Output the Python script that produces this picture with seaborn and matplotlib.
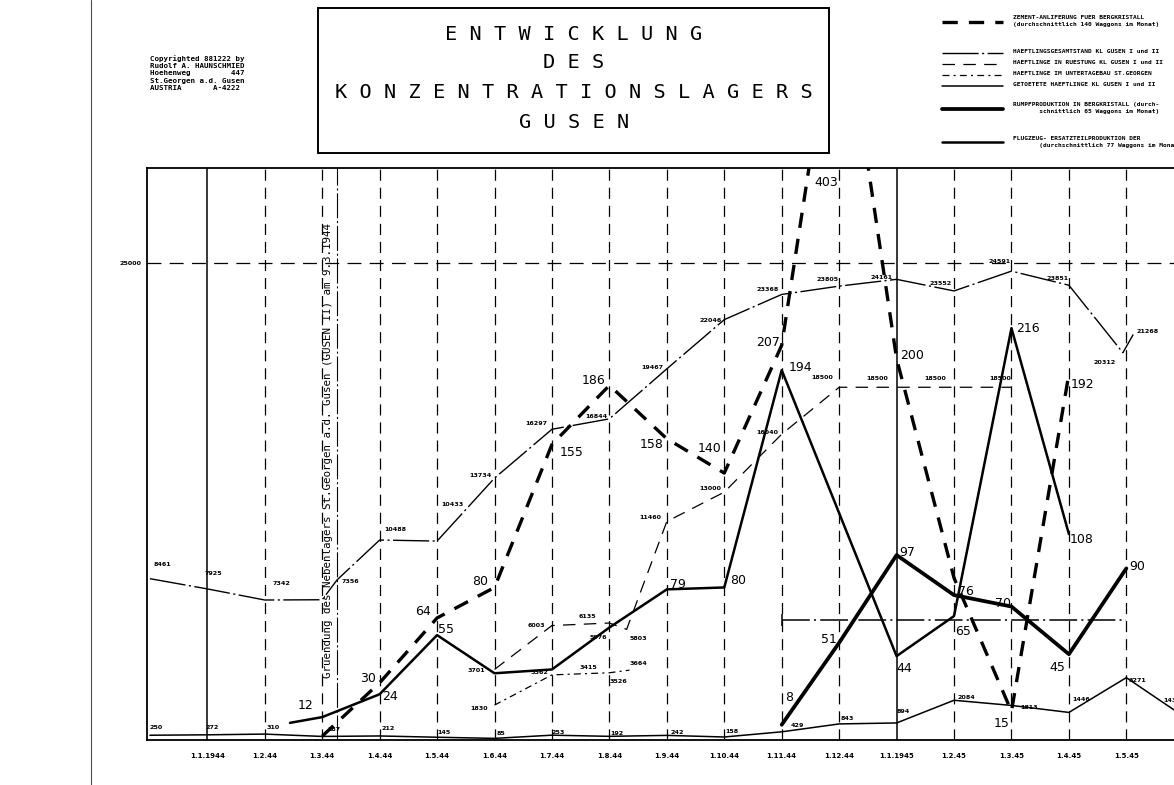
import matplotlib
matplotlib.use('Agg')
import matplotlib.pyplot as plt
from matplotlib.lines import Line2D
from matplotlib.patches import Rectangle
import seaborn as sns

# x positions are months counted from 1.12.1943 (= 0)
MONTH_TICKS = list(range(1, 18))
MONTH_LABELS = ["1.1.1944", "1.2.44", "1.3.44", "1.4.44", "1.5.44", "1.6.44",
                "1.7.44", "1.8.44", "1.9.44", "1.10.44", "1.11.44", "1.12.44",
                "1.1.1945", "1.2.45", "1.3.45", "1.4.45", "1.5.45"]
GRUENDUNG_X = 3.26   # 9.3.1944

# prisoner counts (left scale 0..30000)
GESAMT_X = [0, 1, 2, 3, 3.26, 4, 5, 6, 7, 8, 9, 10, 11, 12, 13, 14, 15, 16, 16.94, 17.12]
GESAMT_Y = [8461, 7925, 7342, 7356, 8400, 10488, 10433, 13734, 16297, 16844, 19467,
            22046, 23368, 23805, 24161, 23552, 24591, 23851, 20312, 21268]
GESAMT_TXT = ["8461", "7925", "7342", "7356", "", "10488", "10433", "13734", "16297",
              "16844", "19467", "22046", "23368", "23805", "24161", "23552", "24591",
              "23851", "20312", "21268"]

RUEST_X = [6, 7, 8, 8.3, 9, 10, 11, 12, 13, 14, 15]
RUEST_Y = [3701, 6003, 6135, 5803, 11460, 13000, 16040, 18500, 18500, 18500, 18500]

UNTER_X = [6, 7, 8, 8.35]
UNTER_Y = [1830, 3415, 3526, 3664]

TOTE_X = [0, 1, 2, 3, 4, 5, 6, 7, 8, 9, 10, 11, 12, 13, 14, 15, 16, 17, 17.9]
TOTE_Y = [250, 272, 310, 187, 212, 145, 85, 253, 192, 242, 158, 429, 843, 894,
          2084, 1813, 1446, 3271, 1436]

# waggons per month (right scale 0..300)
ZEMENT_X = [3, 4, 5, 6, 7, 8, 9, 10, 11, 12, 13, 14, 15, 16]
ZEMENT_Y = [2, 30, 64, 80, 155, 186, 158, 140, 207, 403, 200, 85, 15, 192]
ZEMENT_TXT = ["", "30", "64", "80", "155", "186", "158", "140", "207", "403", "200",
              "", "15", "192"]

RUMPF_X = [11, 12, 13, 14, 15, 16, 17]
RUMPF_Y = [8, 51, 97, 76, 70, 45, 90]
RUMPF_AVG_X = [11, 17]
RUMPF_AVG_Y = [63, 63]

FLUG_X = [2.44, 3, 4, 5, 6, 7, 8, 9, 10, 11, 13, 14, 15, 16]
FLUG_Y = [9, 12, 24, 55, 35, 37, 59, 79, 80, 194, 44, 65, 216, 108]
FLUG_TXT = ["", "12", "24", "55", "", "", "", "79", "80", "194", "44", "65",
            "216", "108"]
# prisoner figures written beside this line in summer 1944
FLUG_NOTE_TXT = ["", "", "", "", "", "3362", "5976", "", "", "", "", "", "", ""]

# label offsets in pixels (layout only)
GESAMT_OFF = [(13, 14), (6, 15), (17, 17), (28, 18), (0, 0), (16, 11), (15, 37),
              (-14, 3), (-16, 6), (-13, 2), (-14, 1), (-14, -1), (-14, 5), (-12, 7),
              (-15, 2), (-13, 7), (-12, 10), (-11, 7), (-18, -10), (14, 3)]
RUEST_OFF = [(-18, -1), (-16, 0), (-22, 7), (12, -9), (-16, 4), (-14, 4), (-14, 2),
             (-17, 10), (-19, 9), (-19, 9), (-11, 9)]
UNTER_OFF = [(-15, -3), (36, 7), (9, -9), (9, 7)]
TOTE_OFF = [(6, 8), (5, 7), (8, 7), (12, 7), (9, 7), (7, 5), (6, 5), (6, 3), (8, 3),
            (10, 3), (8, 5), (16, 6), (8, 5), (7, 11), (12, 3), (18, -2), (12, 13),
            (11, -3), (-6, 12)]
ZEMENT_OFF = [(0, 0), (-12, 4), (-14, 6), (-14, 6), (20, -8), (-16, 5), (-15, -6),
              (-15, 25), (-14, 3), (-13, -211), (15, 3), (0, 0), (-10, -12), (14, -11)]
RUMPF_OFF = [(7, 27), (-10, 3), (11, 3), (12, 4), (-8, 3), (-12, -13), (11, 2)]
FLUG_OFF = [(0, 0), (-17, 12), (10, -2), (9, 6), (0, 0), (-12, -3), (-11, -10), (11, 5),
            (14, 7), (19, 3), (8, -12), (9, -15), (16, 0), (13, -5)]

STYLE_ZEMENT = dict(linewidth=2.4, linestyle=(0, (11, 8)))
STYLE_GESAMT = dict(linewidth=1.0, linestyle=(0, (26, 2.5, 1.5, 2.5)))
STYLE_RUEST = dict(linewidth=0.9, linestyle=(0, (9, 6)))
STYLE_UNTER = dict(linewidth=0.9, linestyle=(0, (5, 3, 1.5, 3)))
STYLE_TOTE = dict(linewidth=1.1, linestyle='-')
STYLE_RUMPF = dict(linewidth=2.7, linestyle='-')
STYLE_FLUG = dict(linewidth=1.8, linestyle='-')
STYLE_AVG = dict(linewidth=1.1, linestyle=(0, (20, 3, 1.5, 3)))

sns.set_style('white')
plt.rcParams['lines.scale_dashes'] = False
plt.rcParams['font.family'] = ['DejaVu Sans']
plt.rcParams['text.color'] = 'black'
plt.rcParams['xtick.color'] = 'black'
plt.rcParams['ytick.color'] = 'black'

W, H = 1174, 785
def fx(px):
    return px / W
def fy(py):
    return 1 - py / H

fig = plt.figure(figsize=(W / 100, H / 100), dpi=100)
ax = fig.add_axes([fx(147), fy(740), 1065.5 / W, (740 - 168) / H])
ax.set_xlim(-0.05, 18.5)
ax.set_ylim(0, 30000)
ax2 = ax.twinx()
ax2.set_ylim(0, 300)
ax2.set_axis_off()

for side in ['left', 'top', 'bottom']:
    ax.spines[side].set_linewidth(1.3)
    ax.spines[side].set_color('black')
ax.spines['right'].set_visible(False)

# month grid
for m in range(1, 19):
    if m in (1, 13):
        ax.axvline(m, color='black', lw=1.1)
    else:
        ax.axvline(m, color='black', lw=0.9, ls=(0, (8, 5)))
ax.axvline(GRUENDUNG_X, color='black', lw=0.8, ls=(0, (18, 2, 1.5, 2)))
ax.axhline(25000, color='black', lw=0.9, ls=(0, (10, 6)))

ax.set_xticks(MONTH_TICKS)
ax.set_xticklabels(MONTH_LABELS, fontsize=5, fontweight='bold')
ax.set_yticks([25000])
ax.set_yticklabels(['25000'], fontsize=4.6, fontweight='bold')
ax.tick_params(axis='x', length=4.3, width=1, pad=5, color='black')
ax.tick_params(axis='y', length=0, pad=4)


def line(axis, xs, ys, style):
    sns.lineplot(x=xs, y=ys, ax=axis, color='black', estimator=None, sort=False, **style)


def labels(axis, xs, ys, texts, offsets, **kw):
    for x, y, t, (dx, dy) in zip(xs, ys, texts, offsets):
        if t:
            axis.annotate(t, xy=(x, y), xytext=(dx, dy), textcoords='offset pixels',
                          ha='center', va='center', annotation_clip=False,
                          color='black', **kw)


SMALL = dict(fontsize=4.6, fontweight='bold')
LARGE = dict(fontsize=9, fontweight='normal')

line(ax, TOTE_X, TOTE_Y, STYLE_TOTE)
line(ax, GESAMT_X, GESAMT_Y, STYLE_GESAMT)
line(ax, RUEST_X, RUEST_Y, STYLE_RUEST)
line(ax, UNTER_X, UNTER_Y, STYLE_UNTER)
line(ax2, ZEMENT_X, ZEMENT_Y, STYLE_ZEMENT)
line(ax2, FLUG_X, FLUG_Y, STYLE_FLUG)
line(ax2, RUMPF_X, RUMPF_Y, STYLE_RUMPF)
sns.lineplot(x=RUMPF_AVG_X, y=RUMPF_AVG_Y, ax=ax2, color='black', estimator=None,
             marker='|', markevery=[0], markersize=9, markeredgecolor='black',
             markeredgewidth=1.1, **STYLE_AVG)

labels(ax, TOTE_X, TOTE_Y, [str(v) for v in TOTE_Y], TOTE_OFF, **SMALL)
labels(ax, GESAMT_X, GESAMT_Y, GESAMT_TXT, GESAMT_OFF, **SMALL)
labels(ax, RUEST_X, RUEST_Y, [str(v) for v in RUEST_Y], RUEST_OFF, **SMALL)
labels(ax, UNTER_X, UNTER_Y, [str(v) for v in UNTER_Y], UNTER_OFF, **SMALL)
labels(ax2, ZEMENT_X, ZEMENT_Y, ZEMENT_TXT, ZEMENT_OFF, **LARGE)
labels(ax2, RUMPF_X, RUMPF_Y, [str(v) for v in RUMPF_Y], RUMPF_OFF, **LARGE)
labels(ax2, FLUG_X, FLUG_Y, FLUG_TXT, FLUG_OFF, **LARGE)
labels(ax2, FLUG_X, FLUG_Y, FLUG_NOTE_TXT, FLUG_OFF, **SMALL)

ax.text(3.1, 15200, "Gruendung des Nebenlagers St.Georgen a.d. Gusen (GUSEN II) am 9.3.1944",
        rotation=90, ha='center', va='center', fontsize=7.8, family='DejaVu Sans Mono',
        color='black')

# title box
fig.add_artist(Rectangle((fx(318), fy(153)), 511 / W, 145 / H, transform=fig.transFigure,
                         fill=False, lw=1.4, ec='black'))
for txt, py in [("ENTWICKLUNG", 35), ("DES", 63), ("KONZENTRATIONSLAGERS", 93), ("GUSEN", 122)]:
    fig.text(fx(574), fy(py), " ".join(txt), ha='center', va='center',
             fontsize=14.6, family='DejaVu Sans Mono')

fig.text(fx(150), fy(55), "Copyrighted 881222 by\nRudolf A. HAUNSCHMIED\nHoehenweg         447\n"
         "St.Georgen a.d. Gusen\nAUSTRIA       A-4222", ha='left', va='top',
         fontsize=5.4, fontweight='bold', family='DejaVu Sans Mono', linespacing=1.25)

# legend
legend_items = [
    (STYLE_ZEMENT, 22, 15, "ZEMENT-ANLIFERUNG FUER BERGKRISTALL\n(durchschnittlich 140 Waggons im Monat)"),
    (STYLE_GESAMT, 53, 49, "HAEFTLINGSGESAMTSTAND KL GUSEN I und II"),
    (STYLE_RUEST, 64, 60, "HAEFTLINGE IN RUESTUNG KL GUSEN I und II"),
    (STYLE_UNTER, 75, 71, "HAEFTLINGE IM UNTERTAGEBAU ST.GEORGEN"),
    (STYLE_TOTE, 86, 82, "GETOETETE HAEFTLINGE KL GUSEN I und II"),
    (STYLE_RUMPF, 109, 102, "RUMPFPRODUKTION IN BERGKRISTALL (durch-\n       schnittlich 65 Waggons im Monat)"),
    (STYLE_FLUG, 142, 136, "FLUGZEUG- ERSATZTEILPRODUKTION DER\n       (durchschnittlich 77 Waggons im Monat)"),
]
for style, ly, ty, txt in legend_items:
    fig.add_artist(Line2D([fx(942), fx(1003)], [fy(ly), fy(ly)], color='black',
                          transform=fig.transFigure, **style))
    fig.text(fx(1013), fy(ty), txt, ha='left', va='top', fontsize=4.5,
             fontweight='bold', family='DejaVu Sans Mono', linespacing=1.5)

# scan border
fig.add_artist(Line2D([fx(91), fx(91)], [0, 1], color='0.3', lw=0.8, transform=fig.transFigure))

fig.savefig('out.png', dpi=100)
